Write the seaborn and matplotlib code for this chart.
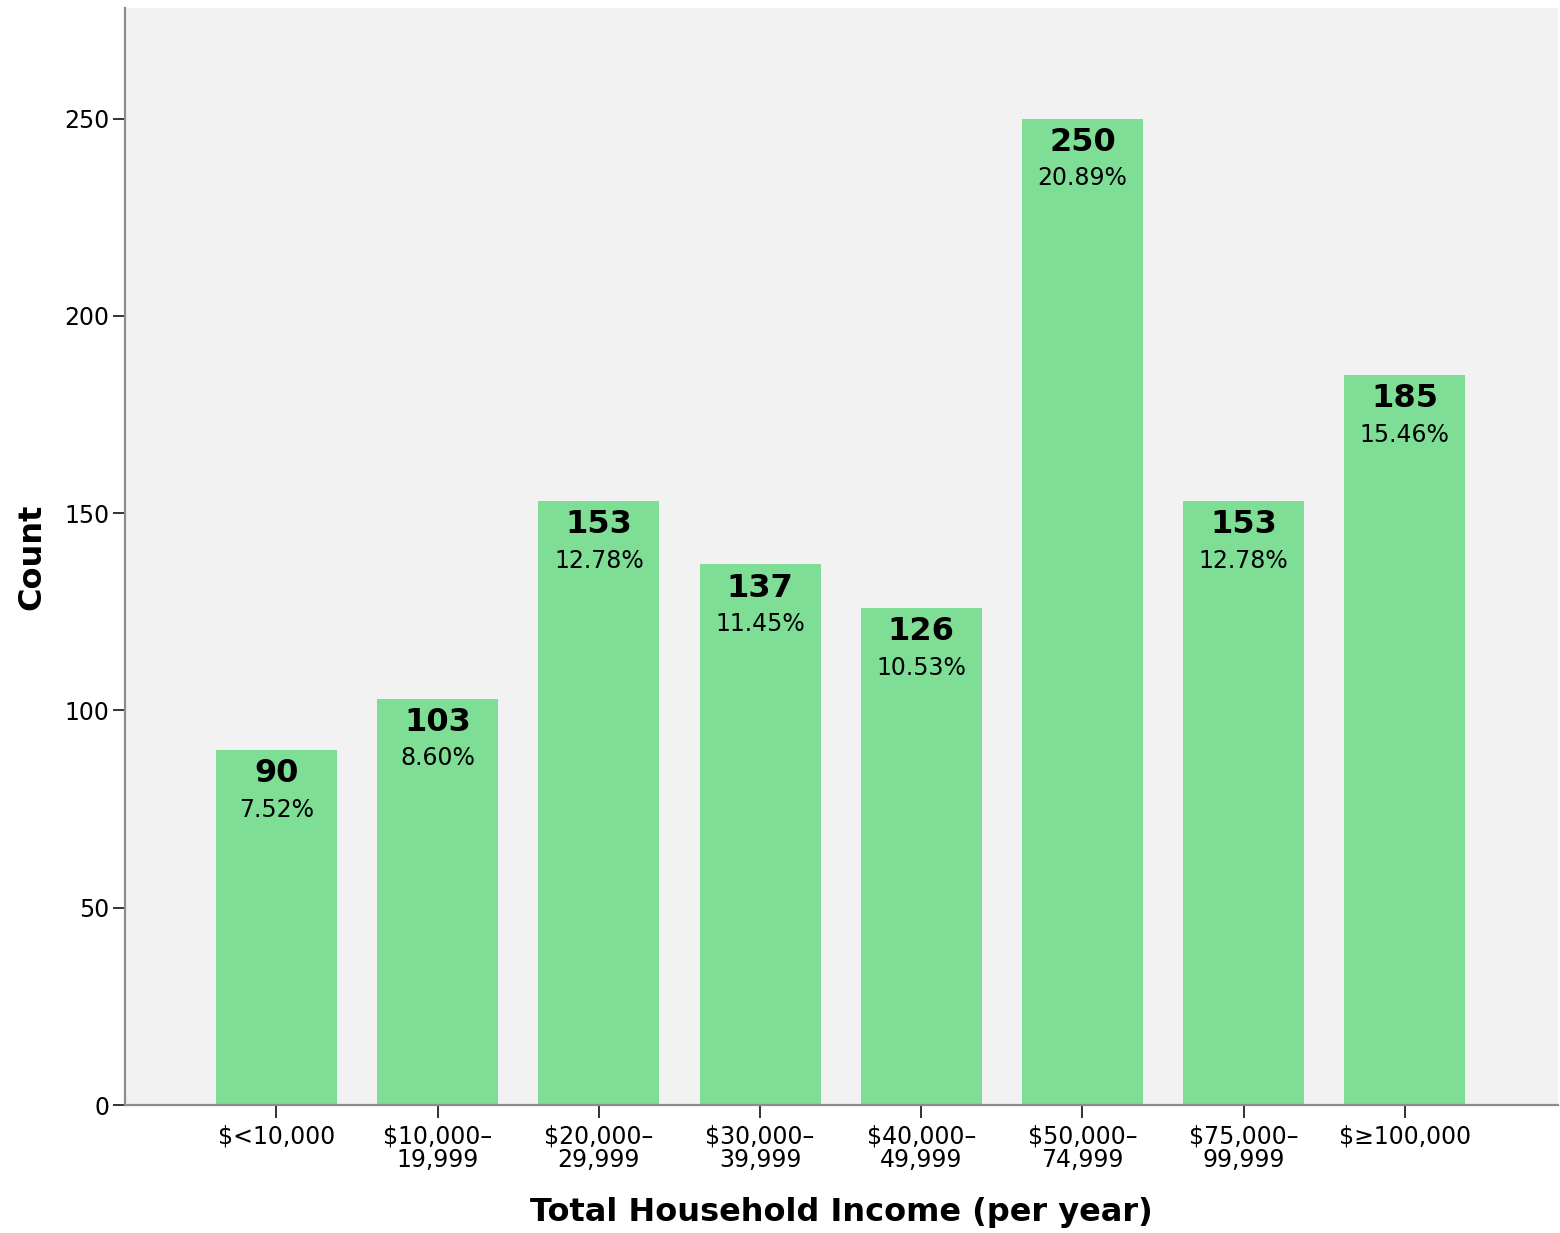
import pandas as pd
import seaborn as sns
import matplotlib.pyplot as plt

# Dados
categorias = ["$<10,000", "$10,000–\n19,999", "$20,000–\n29,999", "$30,000–\n39,999",
              "$40,000–\n49,999", "$50,000–\n74,999", "$75,000–\n99,999", "$≥100,000"]
contagens = [90, 103, 153, 137, 126, 250, 153, 185]
percentuais = ["7.52%", "8.60%", "12.78%", "11.45%", "10.53%", "20.89%", "12.78%", "15.46%"]

df = pd.DataFrame({"faixa": categorias, "count": contagens})

sns.set_style("ticks")
plt.rcParams['font.family'] = ['DejaVu Sans']
plt.rcParams['text.color'] = 'black'
plt.rcParams['axes.labelcolor'] = 'black'
plt.rcParams['xtick.labelcolor'] = 'black'
plt.rcParams['ytick.labelcolor'] = 'black'

fig = plt.figure(figsize=(15.6, 12.33), dpi=100)
ax = fig.add_axes([0.0801, 0.1038, 0.9186, 0.8897])
ax.set_facecolor("#F2F2F2")

sns.barplot(data=df, x="faixa", y="count", color="#7EDE95", saturation=1,
            width=0.75, linewidth=0, ax=ax)

# Rótulos dentro das barras
for i, (v, p) in enumerate(zip(contagens, percentuais)):
    ax.annotate(str(v), xy=(i, v), xytext=(0, -17), textcoords="offset points",
                ha="center", va="center", fontsize=23, fontweight="bold", color="black")
    ax.annotate(p, xy=(i, v), xytext=(0, -43), textcoords="offset points",
                ha="center", va="center", fontsize=17, color="black")

ax.set_xlim(-0.94, 7.95)
ax.set_ylim(0, 278)
ax.set_yticks([0, 50, 100, 150, 200, 250])

for s in ["top", "right"]:
    ax.spines[s].set_visible(False)
for s in ["left", "bottom"]:
    ax.spines[s].set_color("#8C8C8C")
    ax.spines[s].set_linewidth(1.6)

ax.tick_params(axis="y", length=9, width=1.4, color="#333333", labelsize=17, pad=2)
ax.tick_params(axis="x", length=9, width=1.4, color="#333333", labelsize=17, pad=5)
for t in ax.get_xticklabels():
    t.set_linespacing(0.95)

ax.set_xlabel("Total Household Income (per year)", fontsize=23, fontweight="bold", labelpad=18)
ax.set_ylabel("Count", fontsize=23, fontweight="bold", labelpad=12)

plt.savefig("out.png", dpi=100)
plt.close()
